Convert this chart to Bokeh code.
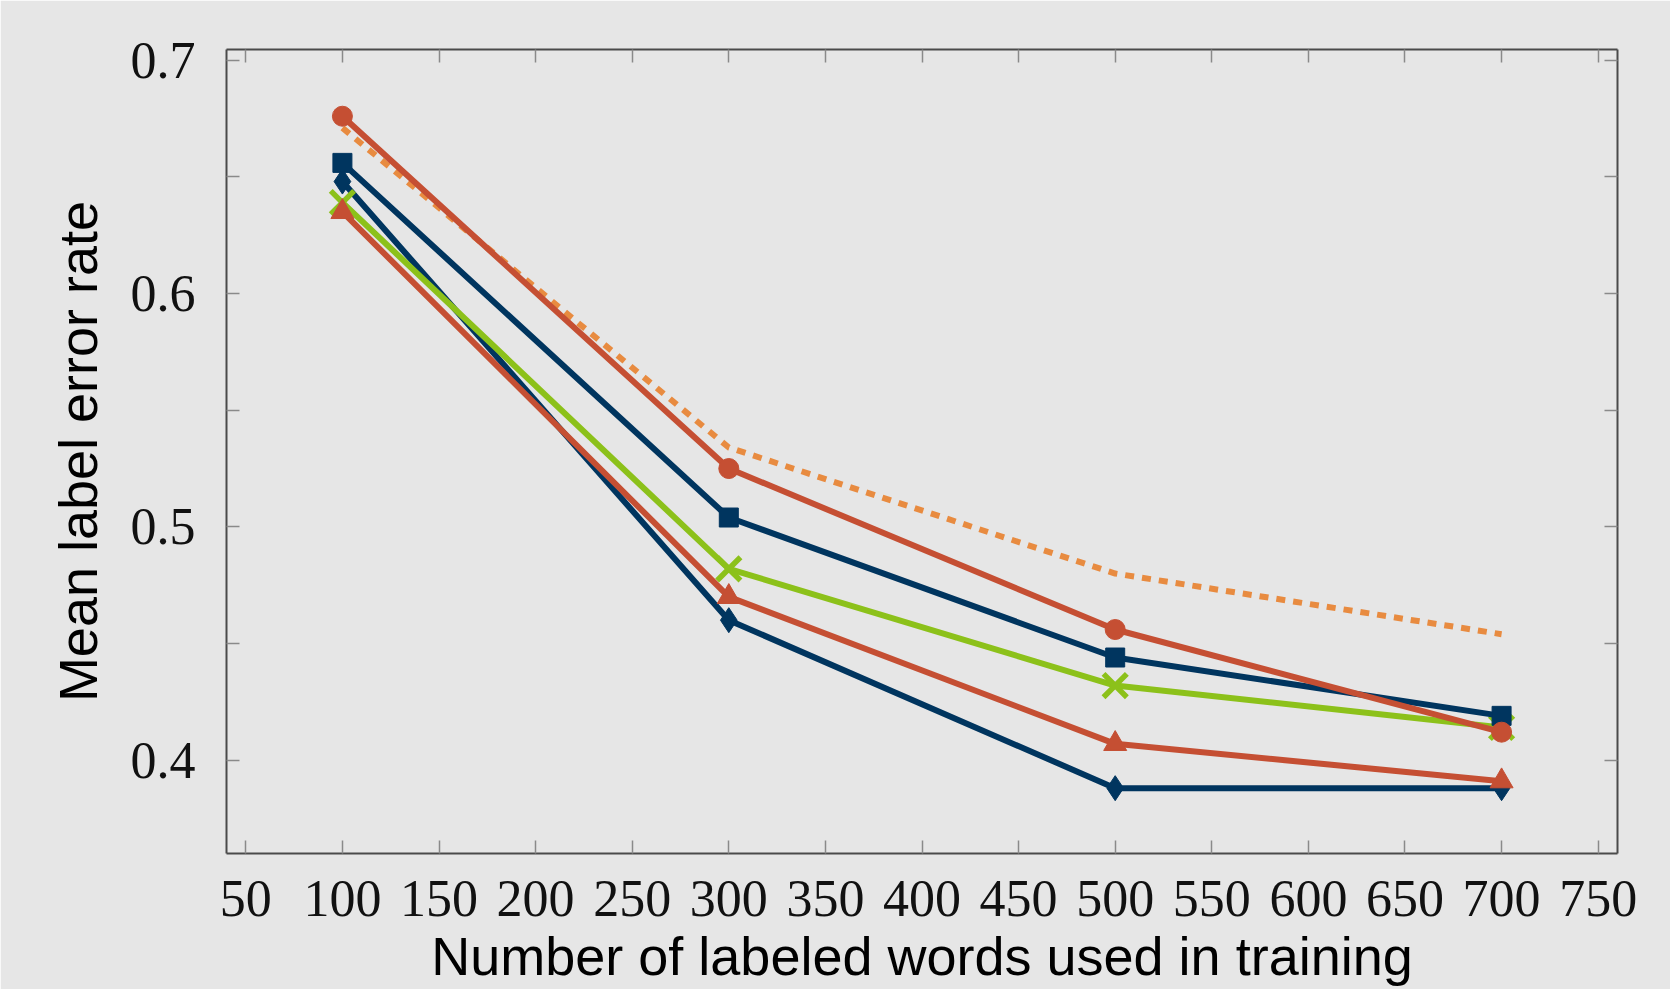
from bokeh.plotting import figure
from bokeh.models import FixedTicker, LinearAxis, Range1d
from bokeh.embed import file_html
from bokeh.resources import INLINE

# ---- data ----
words = [100, 300, 500, 700]
err_circle = [0.676, 0.525, 0.456, 0.412]
err_square = [0.656, 0.504, 0.444, 0.419]
err_cross = [0.639, 0.482, 0.432, 0.414]
err_triangle = [0.635, 0.470, 0.407, 0.391]
err_diamond = [0.648, 0.460, 0.388, 0.388]
err_dotted = [0.671, 0.534, 0.480, 0.454]

x_ticks = [50, 100, 150, 200, 250, 300, 350, 400, 450, 500, 550, 600, 650, 700, 750]
y_ticks = [0.4, 0.5, 0.6, 0.7]
y_minor = [0.45, 0.55, 0.65]

RED = "#C54F33"
NAVY = "#00355F"
GREEN = "#8CC11A"
ORANGE = "#E88B40"
BG = "#E6E6E6"
SERIF = "Liberation Serif"
SANS = "Liberation Sans"

p = figure(width=1670, height=989, output_backend="svg", toolbar_location=None,
           x_range=Range1d(40, 760), y_range=Range1d(0.36, 0.7046),
           min_border_left=226, min_border_right=53, min_border_top=49, min_border_bottom=136)
p.background_fill_color = BG
p.border_fill_color = BG
p.outline_line_color = None
p.grid.visible = False

AX = "#4a4a4a"
TK = "#8a8a8a"

def style_axis(ax, labels=True):
    ax.axis_line_color = AX
    ax.axis_line_width = 2
    ax.major_tick_in = 13
    ax.major_tick_out = 0
    ax.minor_tick_in = 13
    ax.minor_tick_out = 0
    ax.major_tick_line_color = TK
    ax.minor_tick_line_color = TK
    ax.major_tick_line_width = 1.5
    ax.minor_tick_line_width = 1.5
    if labels:
        ax.major_label_text_font = SERIF
        ax.major_label_text_font_size = "52px"
        ax.major_label_text_color = "#111111"
    else:
        ax.major_label_standoff = 0

xt = FixedTicker(ticks=x_ticks, minor_ticks=[])
yt = FixedTicker(ticks=y_ticks, minor_ticks=y_minor)

p.xaxis.ticker = xt
p.yaxis.ticker = yt
style_axis(p.xaxis[0])
style_axis(p.yaxis[0])
p.xaxis.major_label_standoff = 27
p.yaxis.major_label_standoff = 31
p.xaxis.axis_label = "Number of labeled words used in training"
p.yaxis.axis_label = "Mean label error rate"
for ax in (p.xaxis[0], p.yaxis[0]):
    ax.axis_label_text_font = SANS
    ax.axis_label_text_font_size = "54px"
    ax.axis_label_text_font_style = "normal"
    ax.axis_label_text_color = "#000000"
p.xaxis.axis_label_standoff = 7
p.yaxis.axis_label_standoff = 20

top = LinearAxis(ticker=FixedTicker(ticks=x_ticks, minor_ticks=[]),
                 major_label_overrides={t: "" for t in x_ticks})
right = LinearAxis(ticker=FixedTicker(ticks=y_ticks, minor_ticks=y_minor),
                   major_label_overrides={t: "" for t in y_ticks})
style_axis(top, labels=False)
style_axis(right, labels=False)
p.add_layout(top, "above")
p.add_layout(right, "right")

LW = 6
p.line(words, err_dotted, line_color=ORANGE, line_width=LW, line_dash="9 8")

p.line(words, err_diamond, line_color=NAVY, line_width=LW)
p.scatter(words, err_diamond, marker="diamond", size=25, fill_color=NAVY, line_color=NAVY)

p.line(words, err_cross, line_color=GREEN, line_width=LW)
p.scatter(words, err_cross, marker="x", size=33, line_color=GREEN, line_width=5.5)

p.line(words, err_triangle, line_color=RED, line_width=LW)
p.scatter(words, err_triangle, marker="triangle", size=23, fill_color=RED, line_color=RED)

p.line(words, err_square, line_color=NAVY, line_width=LW)
p.scatter(words, err_square, marker="square", size=19, fill_color=NAVY, line_color=NAVY)

p.line(words, err_circle, line_color=RED, line_width=LW)
p.scatter(words, err_circle, marker="circle", size=20, fill_color=RED, line_color=RED)

open("out.html", "w").write(file_html(p, INLINE))
